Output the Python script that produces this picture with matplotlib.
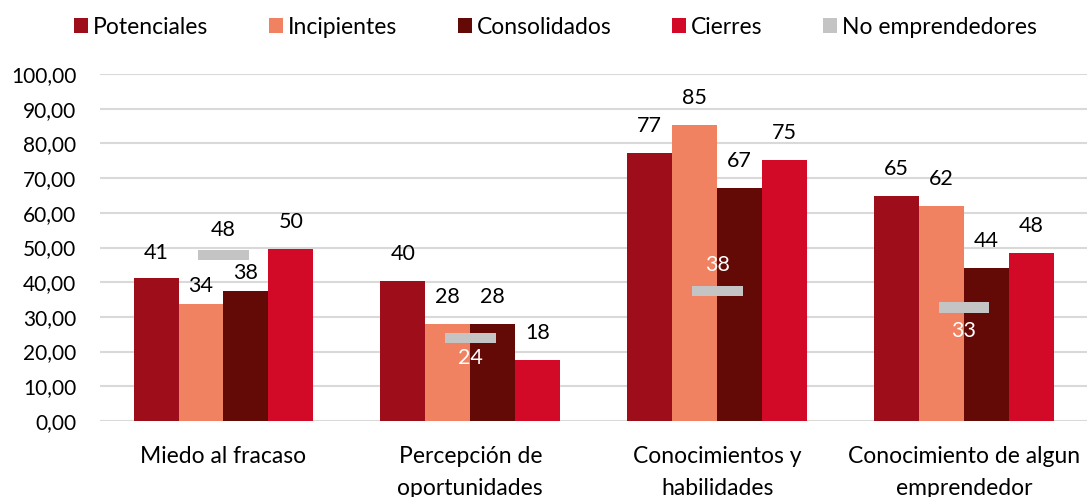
"""Barras agrupadas: percepciones por tipo de emprendedor."""
import matplotlib.pyplot as plt
import numpy as np

categorias = ["Miedo al fracaso", "Percepción de\noportunidades",
              "Conocimientos y\nhabilidades", "Conocimiento de algun\nemprendedor"]
series = ["Potenciales", "Incipientes", "Consolidados", "Cierres"]
potenciales = [41.2, 40.4, 77.3, 64.8]
incipientes = [33.8, 27.9, 85.4, 61.9]
consolidados = [37.6, 27.9, 67.1, 44.2]
cierres = [49.5, 17.6, 75.1, 48.5]
no_emprendedores = [47.9, 24.0, 37.5, 32.7]

colores = ["#9E0E1A", "#F08262", "#640A06", "#D20A28"]
gris = "#C4C4C4"

plt.rcParams["font.family"] = ["Lato", "DejaVu Sans"]

fig = plt.figure(figsize=(10.91, 4.97), dpi=100)
ax = fig.add_axes([0.0917, 0.153, 0.905, 0.698])

x = np.arange(len(categorias))
w = 0.182
valores = [potenciales, incipientes, consolidados, cierres]
# desplazamiento vertical (px) de cada etiqueta sobre la barra
offs = [[25, 27, 27, 27], [18, 27, 27, 27], [18, 27, 27, 27], [27, 27, 27, 27]]
px = 72 / fig.dpi

for i, (nombre, vals) in enumerate(zip(series, valores)):
    pos = x + (i - 1.5) * w
    ax.bar(pos, vals, width=w, color=colores[i], label=nombre, zorder=2)
    for j, (p, v) in enumerate(zip(pos, vals)):
        ax.annotate(f"{v:.0f}", (p, v), xytext=(0, offs[i][j] * px),
                    textcoords="offset points", ha="center", va="center",
                    fontsize=15.5, color="black")

# marcador de no emprendedores
h = 2.9
ax.bar(x, [h] * len(x), bottom=np.array(no_emprendedores) - h / 2, width=0.206,
       color=gris, label="No emprendedores", zorder=3)
lab_off = [25, -20, 26, -23]
lab_col = ["black", "white", "white", "white"]
for j, v in enumerate(no_emprendedores):
    ax.annotate(f"{v:.0f}", (x[j], v), xytext=(0, lab_off[j] * px),
                textcoords="offset points", ha="center", va="center",
                fontsize=15.5, color=lab_col[j], zorder=4)

ax.set_xlim(-0.5, 3.5)
ax.set_ylim(0, 100)
ax.set_yticks(np.arange(0, 101, 10))
ax.set_yticklabels([f"{t:.2f}".replace(".", ",") for t in np.arange(0, 101, 10)],
                   fontsize=15)
ax.set_xticks(x)
ax.set_xticklabels(categorias, fontsize=16.5, linespacing=1.65)
ax.tick_params(axis="y", length=0, pad=17)
ax.tick_params(axis="x", length=0, pad=18)
ax.grid(axis="y", color="#D9D9D9", linewidth=1.5, zorder=0)
ax.set_axisbelow(True)
for s in ax.spines.values():
    s.set_visible(False)

fig.legend(loc="center", bbox_to_anchor=(0.509, 0.945), ncol=5, frameon=False,
           fontsize=16.5, handlelength=0.62, handleheight=0.62, handletextpad=0.2,
           columnspacing=2.65)

fig.savefig("out.png", dpi=100)
plt.close(fig)
